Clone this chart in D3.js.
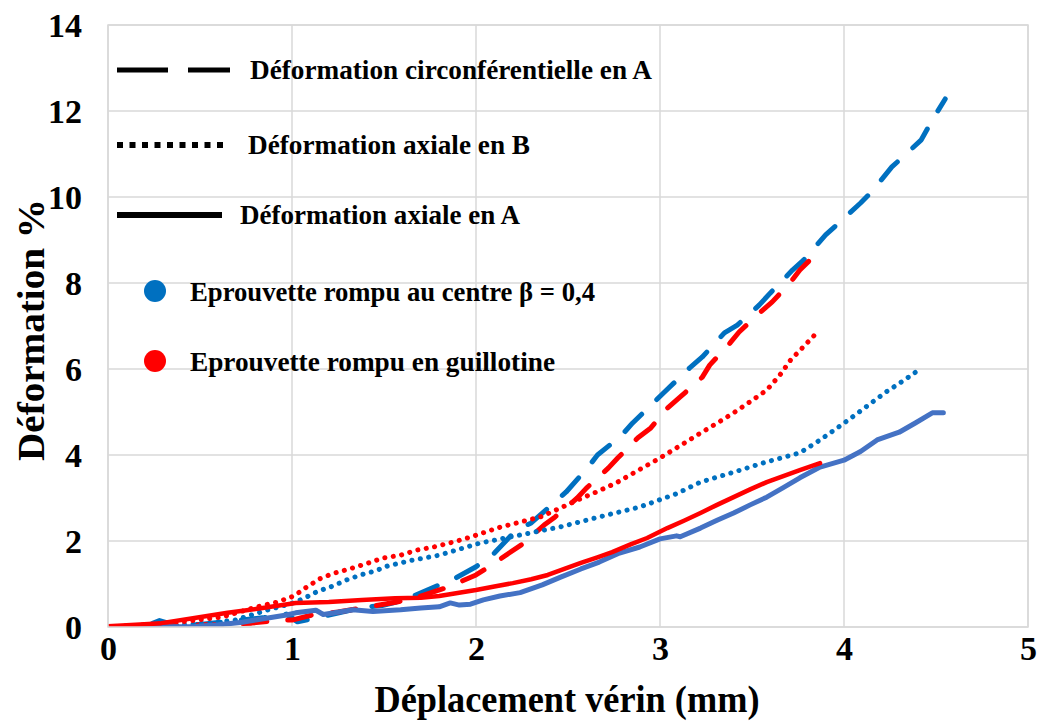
<!DOCTYPE html>
<html><head><meta charset="utf-8">
<script src="https://cdn.jsdelivr.net/npm/d3@7"></script>
<style>
html,body{margin:0;padding:0;background:#fff;}
text{font-family:"Liberation Serif","Times New Roman",serif;font-weight:bold;fill:#000;}
</style></head>
<body><svg id="chart" width="1040" height="722"></svg>
<script>
// ---- data ----
const xTicks = [0, 1, 2, 3, 4, 5];
const yTicks = [0, 2, 4, 6, 8, 10, 12, 14];
const xTitle = "Déplacement vérin (mm)";
const yTitle = "Déformation %";

// Eprouvette rompu au centre (blue)
const centreCircX = [0,0.15,0.22,0.28,0.35,0.5,0.7,0.85,0.97,1.03,1.15,1.33,1.41,1.49,1.57,1.65,1.80,1.89,2.0,2.10,2.22,2.30,2.43,2.49,2.61,2.66,2.79,2.85,2.98,3.04,3.16,3.23,3.35,3.42,3.54,3.60,3.72,3.78,3.90,3.96,4.09,4.15,4.26,4.32,4.42,4.48,4.55];
const centreCircY = [0,0.02,0.05,0.15,0.06,0.06,0.15,0.22,0.30,0.12,0.23,0.40,0.47,0.50,0.58,0.70,0.98,1.14,1.40,1.72,2.26,2.42,2.91,3.14,3.72,4.0,4.45,4.74,5.28,5.53,6.02,6.28,6.84,7.02,7.49,7.77,8.30,8.53,9.12,9.35,9.86,10.12,10.70,10.93,11.33,11.79,12.28];
const centreAxBX = [0,0.2,0.4,0.55,0.69,0.78,0.87,0.95,1.02,1.09,1.14,1.22,1.30,1.38,1.45,1.52,1.65,1.80,2.02,2.24,2.46,2.67,2.89,3.09,3.22,3.40,3.58,3.76,3.87,4.0,4.12,4.23,4.33,4.42];
const centreAxBY = [0,0.02,0.05,0.09,0.16,0.28,0.40,0.49,0.58,0.72,0.83,0.95,1.10,1.22,1.30,1.42,1.55,1.67,1.95,2.14,2.33,2.56,2.79,3.10,3.37,3.60,3.84,4.05,4.35,4.74,5.12,5.47,5.75,6.02];
const centreAxAX = [0,0.3,0.47,0.6,0.73,0.81,0.97,1.02,1.13,1.17,1.23,1.33,1.44,1.59,1.70,1.80,1.86,1.91,1.97,2.04,2.13,2.24,2.36,2.46,2.57,2.67,2.78,2.89,3.0,3.09,3.11,3.22,3.31,3.40,3.49,3.58,3.67,3.76,3.87,4.0,4.09,4.18,4.30,4.39,4.48,4.54];
const centreAxAY = [0,0,0.01,0.05,0.11,0.17,0.28,0.33,0.39,0.29,0.33,0.40,0.36,0.40,0.44,0.47,0.56,0.51,0.53,0.63,0.72,0.80,0.98,1.16,1.35,1.51,1.72,1.86,2.05,2.12,2.10,2.30,2.48,2.65,2.84,3.02,3.24,3.47,3.72,3.88,4.08,4.35,4.53,4.75,4.98,4.98];

// Eprouvette rompu en guillotine (red)
const guilCircX = [0,0.3,0.5,0.65,0.78,0.93,1.0,1.11,1.25,1.42,1.57,1.70,1.85,2.0,2.06,2.18,2.26,2.37,2.43,2.55,2.60,2.72,2.77,2.88,2.95,3.04,3.11,3.23,3.27,3.38,3.43,3.54,3.61,3.71,3.76,3.87];
const guilCircY = [0,0.02,0.05,0.06,0.09,0.16,0.16,0.28,0.35,0.47,0.58,0.72,0.93,1.21,1.37,1.72,1.95,2.37,2.56,3.0,3.23,3.70,3.93,4.40,4.63,5.09,5.35,5.81,6.09,6.60,6.86,7.30,7.56,8.02,8.30,8.77];
const guilAxBX = [0,0.2,0.4,0.62,0.81,0.92,1.01,1.08,1.15,1.22,1.32,1.41,1.49,1.59,1.68,1.77,1.88,1.97,2.06,2.13,2.24,2.35,2.45,2.55,2.66,2.77,2.88,3.0,3.11,3.22,3.31,3.40,3.49,3.58,3.65,3.71,3.78,3.86];
const guilAxBY = [0,0.05,0.12,0.23,0.47,0.58,0.72,0.93,1.12,1.24,1.36,1.48,1.60,1.67,1.79,1.86,1.98,2.09,2.22,2.32,2.44,2.56,2.75,2.95,3.15,3.37,3.64,3.93,4.22,4.51,4.74,4.98,5.24,5.51,5.85,6.21,6.52,6.88];
const guilAxAX = [0,0.15,0.29,0.47,0.65,0.84,1.02,1.20,1.38,1.56,1.70,1.80,1.90,2.0,2.10,2.20,2.30,2.39,2.48,2.57,2.66,2.74,2.84,2.93,3.04,3.13,3.22,3.31,3.40,3.49,3.58,3.67,3.76,3.87];
const guilAxAY = [0.02,0.05,0.09,0.21,0.33,0.44,0.56,0.58,0.63,0.67,0.68,0.72,0.79,0.86,0.94,1.02,1.11,1.21,1.35,1.49,1.62,1.74,1.92,2.07,2.30,2.47,2.65,2.84,3.02,3.20,3.37,3.51,3.65,3.81];

const legendLines = ["Déformation circonférentielle en A", "Déformation axiale en B", "Déformation axiale en A"];
const legendSpecimens = ["Eprouvette rompu au centre β = 0,4", "Eprouvette rompu en guillotine"];

// ---- drawing ----
const svg = d3.select("#chart");
const L = 108, R = 1028, T = 25, B = 627;
const x = d3.scaleLinear().domain([0, 5]).range([L, R]);
const y = d3.scaleLinear().domain([0, 14]).range([B, T]);
const blue = "#0070C0", blueSolid = "#4472C4", red = "#FF0000", grid = "#D9D9D9";

// grid
svg.append("g").selectAll("line").data(xTicks).join("line")
  .attr("x1", d => x(d)).attr("x2", d => x(d)).attr("y1", T).attr("y2", B)
  .attr("stroke", grid).attr("stroke-width", 1.5);
svg.append("g").selectAll("line").data(yTicks).join("line")
  .attr("x1", L).attr("x2", R).attr("y1", d => y(d)).attr("y2", d => y(d))
  .attr("stroke", grid).attr("stroke-width", 1.5);

// axes labels via d3 axes (hide domain/ticks)
const xAxis = svg.append("g").attr("transform", `translate(0,${B})`)
  .call(d3.axisBottom(x).tickValues(xTicks).tickSize(0).tickPadding(0).tickFormat(d3.format("d")));
xAxis.select(".domain").remove();
xAxis.selectAll("text").attr("y", 33).attr("dy", null)
  .style("font-size", "34px").style("font-family", '"Liberation Serif",serif').style("font-weight", "bold");
const yAxis = svg.append("g").attr("transform", `translate(82,0)`)
  .call(d3.axisLeft(y).tickValues(yTicks).tickSize(0).tickPadding(0).tickFormat(d3.format("d")));
yAxis.select(".domain").remove();
yAxis.selectAll("text").attr("x", 0).attr("dy", "0.33em")
  .style("font-size", "34px").style("font-family", '"Liberation Serif",serif').style("font-weight", "bold");

// axis titles
svg.append("text").attr("x", 567).attr("y", 712).attr("text-anchor", "middle")
  .style("font-size", "38px").attr("textLength", 385).attr("lengthAdjust", "spacingAndGlyphs").text(xTitle);
svg.append("text").attr("transform", "translate(44,330) rotate(-90)").attr("text-anchor", "middle")
  .style("font-size", "38px").attr("textLength", 262).attr("lengthAdjust", "spacingAndGlyphs").text(yTitle);

// series
const line = d3.line().x(d => x(d[0])).y(d => y(d[1]));
const zip = (a, b) => a.map((v, i) => [v, b[i]]);
const series = [
  {xs: centreCircX, ys: centreCircY, color: blue, w: 5, dash: "24 21", cap: "round"},
  {xs: guilCircX, ys: guilCircY, color: red, w: 5, dash: "24 21", cap: "round"},
  {xs: centreAxBX, ys: centreAxBY, color: blue, w: 5, dash: "0.1 8.4", cap: "round"},
  {xs: guilAxBX, ys: guilAxBY, color: red, w: 5, dash: "0.1 8.4", cap: "round"},
  {xs: centreAxAX, ys: centreAxAY, color: blueSolid, w: 5, dash: null, cap: "round"},
  {xs: guilAxAX, ys: guilAxAY, color: red, w: 4.5, dash: null, cap: "round"}
];
svg.append("defs").append("clipPath").attr("id", "pc").append("rect")
  .attr("x", L).attr("y", T - 5).attr("width", R - L).attr("height", B - T + 5);
svg.append("g").attr("clip-path", "url(#pc)").selectAll("path").data(series).join("path")
  .attr("d", s => line(zip(s.xs, s.ys)))
  .attr("fill", "none").attr("stroke", s => s.color).attr("stroke-width", s => s.w)
  .attr("stroke-dasharray", s => s.dash).attr("stroke-linecap", s => s.cap).attr("stroke-linejoin", "round");

// plot border
svg.append("rect").attr("x", L).attr("y", T).attr("width", R - L).attr("height", B - T)
  .attr("fill", "none").attr("stroke", grid).attr("stroke-width", 1.5);

// legend (line styles)
const lg = svg.append("g");
lg.append("line").attr("x1", 117).attr("x2", 230).attr("y1", 70).attr("y2", 70)
  .attr("stroke", "#000").attr("stroke-width", 5).attr("stroke-dasharray", "51 20");
lg.append("line").attr("x1", 117).attr("x2", 229).attr("y1", 145).attr("y2", 145)
  .attr("stroke", "#000").attr("stroke-width", 6).attr("stroke-dasharray", "6 6.5");
lg.append("line").attr("x1", 117).attr("x2", 222).attr("y1", 215).attr("y2", 215)
  .attr("stroke", "#000").attr("stroke-width", 6);
const lgTxt = [
  {t: legendLines[0], x: 250, y: 70, w: 402},
  {t: legendLines[1], x: 248, y: 145, w: 282},
  {t: legendLines[2], x: 240, y: 215, w: 280},
  {t: legendSpecimens[0], x: 190, y: 292, w: 405},
  {t: legendSpecimens[1], x: 190, y: 362, w: 365}
];
lg.selectAll("text.lt").data(lgTxt).join("text").attr("class", "lt")
  .attr("x", d => d.x).attr("y", d => d.y).attr("dy", "0.33em")
  .style("font-size", "28px").attr("textLength", d => d.w).attr("lengthAdjust", "spacingAndGlyphs")
  .text(d => d.t);
lg.append("circle").attr("cx", 155).attr("cy", 291).attr("r", 11).attr("fill", blue);
lg.append("circle").attr("cx", 155).attr("cy", 361).attr("r", 11).attr("fill", red);
</script></body></html>
